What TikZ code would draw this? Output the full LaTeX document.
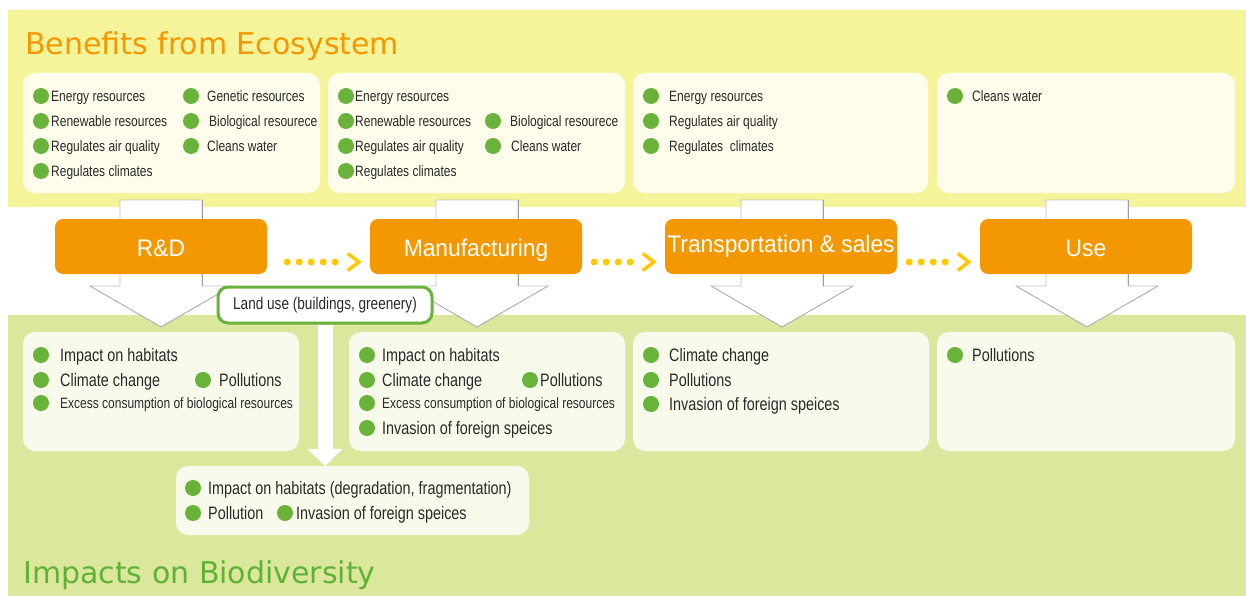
\documentclass[tikz,border=0pt]{standalone}
\usepackage{fontspec}
\setmainfont{Liberation Sans}
\newfontfamily\condfont[FakeStretch=0.8]{Liberation Sans}
\newfontfamily\stagefont[FakeStretch=0.95]{Liberation Sans}
\newfontfamily\titlefont{DejaVu Sans}
\usetikzlibrary{arrows.meta,calc}
\definecolor{yband}{HTML}{F6F49B}
\definecolor{gband}{HTML}{DCE79E}
\definecolor{topc}{HTML}{FEFDEC}
\definecolor{botc}{HTML}{F8FAEC}
\definecolor{orangeC}{HTML}{F39800}
\definecolor{bulletC}{HTML}{6AB33A}
\definecolor{titleG}{HTML}{5FB233}
\definecolor{dotC}{HTML}{FFC800}
\definecolor{txtC}{HTML}{2A2A2A}
\newcommand\myitem[6][ttxt]{%
  \node[bullet] (#2b) at (#3,#5) {};
  \node[#1] (#2) at (#4,#5) {#6};}
\newcommand\bigarrow[1]{%
  \filldraw[fill=white, draw=gray!50, line width=0.6pt]
    (#1-41,200) -- (#1+41,200) -- (#1+41,286) -- (#1+71,286) -- (#1,327)
    -- (#1-71,286) -- (#1-41,286) -- cycle;
  \draw[gray!75, line width=0.6pt] (#1+41,200) -- (#1+41,286);
  \draw[gray!70, line width=0.6pt] (#1+71,286) -- (#1,327) -- (#1-71,286);}
\begin{document}
\begin{tikzpicture}[x=1pt,y=-1pt,
  titletxt/.style={anchor=base west, inner sep=0pt, font=\titlefont\fontsize{30}{36}\selectfont},
  topbox/.style={fill=topc, rounded corners=12pt, anchor=north west, inner sep=0pt, outer sep=0pt, minimum height=120pt},
  botbox/.style={fill=botc, rounded corners=12pt, anchor=north west, inner sep=0pt, outer sep=0pt, minimum height=119pt},
  stagebox/.style={fill=orangeC, rounded corners=8pt, minimum height=55pt, text=white, inner sep=0pt,
    font=\stagefont\fontsize{24}{28}\selectfont, text height=22pt, text depth=2pt},
  bullet/.style={circle, fill=bulletC, minimum size=16pt, inner sep=0pt},
  ttxt/.style={anchor=base west, inner sep=0pt, yshift=-5.4pt, text=txtC, font=\condfont\fontsize{15}{18}\selectfont},
  btxt/.style={anchor=base west, inner sep=0pt, yshift=-6.4pt, text=txtC, font=\condfont\fontsize{18}{21}\selectfont},
  stxt/.style={anchor=base west, inner sep=0pt, yshift=-5.4pt, text=txtC, font=\condfont\fontsize{15}{18}\selectfont},
  dotline/.style={dotC, line width=7pt, line cap=round, dash pattern=on 0pt off 12pt},
  chev/.style={dotC, line width=3.5pt, line join=miter},
  landuse/.style={draw=bulletC, line width=3pt, fill=white, rounded corners=10pt, minimum width=214pt,
    minimum height=36pt, inner sep=0pt, text=txtC, font=\condfont\fontsize{17}{20}\selectfont}
]
\useasboundingbox (0,0) rectangle (1246,596);
% bands
\fill[yband] (8,10) rectangle (1246,207);
\fill[gband] (8,315) rectangle (1246,596);
% titles
\node[titletxt, text=orangeC] (t1) at (25,55) {Benefits from Ecosystem};
\node[titletxt, text=titleG] (t2) at (23,583) {Impacts on Biodiversity};
% top boxes
\node[topbox, minimum width=297pt] (tb1) at (23,73) {};
\node[topbox, minimum width=297pt] (tb2) at (328,73) {};
\node[topbox, minimum width=295pt] (tb3) at (633,73) {};
\node[topbox, minimum width=298pt] (tb4) at (937,73) {};
% bottom boxes
\node[botbox, minimum width=276pt] (bb1) at (23,332) {};
\node[botbox, minimum width=276pt] (bb2) at (349,332) {};
\node[botbox, minimum width=296pt] (bb3) at (633,332) {};
\node[botbox, minimum width=298pt] (bb4) at (937,332) {};
\node[botbox, minimum width=353pt, minimum height=69pt] (low) at (176,466) {};
% big arrows
\bigarrow{161}
\bigarrow{477}
\bigarrow{782}
\bigarrow{1087}
% stages
\node[stagebox, minimum width=212pt] (rd) at (161,246.5) {R\&D};
\node[stagebox, minimum width=212pt] (mf) at (476,246.5) {Manufacturing};
\node[stagebox, minimum width=232pt, text height=14.2pt] (tr) at (781,246.5) {Transportation \& sales};
\node[stagebox, minimum width=212pt] (us) at (1086,246.5) {Use};
% dotted connectors
\draw[dotline] ([xshift=20pt,yshift=-15.5pt]rd.east) -- ([xshift=-23pt,yshift=-15.5pt]mf.west);
\draw[chev] ([xshift=-22pt,yshift=-7pt]mf.west) -- ([xshift=-11pt,yshift=-15.5pt]mf.west) -- ([xshift=-22pt,yshift=-24pt]mf.west);
\draw[dotline] ([xshift=12pt,yshift=-15.5pt]mf.east) -- ([xshift=-23pt,yshift=-15.5pt]tr.west);
\draw[chev] ([xshift=-22pt,yshift=-7pt]tr.west) -- ([xshift=-11pt,yshift=-15.5pt]tr.west) -- ([xshift=-22pt,yshift=-24pt]tr.west);
\draw[dotline] ([xshift=12pt,yshift=-15.5pt]tr.east) -- ([xshift=-23pt,yshift=-15.5pt]us.west);
\draw[chev] ([xshift=-22pt,yshift=-7pt]us.west) -- ([xshift=-11pt,yshift=-15.5pt]us.west) -- ([xshift=-22pt,yshift=-24pt]us.west);
% land use
\node[landuse] (lu) at (325,305) {Land use (buildings, greenery)};
\draw[white, line width=15pt, -{Triangle[width=34pt,length=17pt]}] (lu.south) -- (lu.south |- low.north);
% top items
\myitem{a1}{41}{51}{96}{Energy resources}
\myitem{a2}{41}{51}{121}{Renewable resources}
\myitem{a3}{41}{51}{146}{Regulates air quality}
\myitem{a4}{41}{51}{171}{Regulates climates}
\myitem{a5}{191}{207}{96}{Genetic resources}
\myitem{a6}{191}{209}{121}{Biological resourece}
\myitem{a7}{191}{207}{146}{Cleans water}
\myitem{b1}{346}{355}{96}{Energy resources}
\myitem{b2}{346}{355}{121}{Renewable resources}
\myitem{b3}{346}{355}{146}{Regulates air quality}
\myitem{b4}{346}{355}{171}{Regulates climates}
\myitem{b5}{493}{510}{121}{Biological resourece}
\myitem{b6}{493}{511}{146}{Cleans water}
\myitem{c1}{651}{669}{96}{Energy resources}
\myitem{c2}{651}{669}{121}{Regulates air quality}
\myitem{c3}{651}{669}{146}{Regulates\ \ climates}
\myitem{d1}{955}{972}{96}{Cleans water}
% bottom items
\myitem[btxt]{e1}{41}{60}{355}{Impact on habitats}
\myitem[btxt]{e2}{41}{60}{380}{Climate change}
\myitem[stxt]{e3}{41}{60}{403}{Excess consumption of biological resources}
\myitem[btxt]{e4}{203}{219}{380}{Pollutions}
\myitem[btxt]{f1}{367}{382}{355}{Impact on habitats}
\myitem[btxt]{f2}{367}{382}{380}{Climate change}
\myitem[stxt]{f3}{367}{382}{403}{Excess consumption of biological resources}
\myitem[btxt]{f4}{367}{382}{428}{Invasion of foreign speices}
\myitem[btxt]{f5}{530}{540}{380}{Pollutions}
\myitem[btxt]{g1}{651}{669}{355}{Climate change}
\myitem[btxt]{g2}{651}{669}{380}{Pollutions}
\myitem[btxt]{g3}{651}{669}{404}{Invasion of foreign speices}
\myitem[btxt]{h1}{955}{972}{355}{Pollutions}
\myitem[btxt]{k1}{193}{208}{488}{Impact on habitats (degradation, fragmentation)}
\myitem[btxt]{k2}{193}{208}{513}{Pollution}
\myitem[btxt]{k3}{285}{296}{513}{Invasion of foreign speices}
\end{tikzpicture}
\end{document}
